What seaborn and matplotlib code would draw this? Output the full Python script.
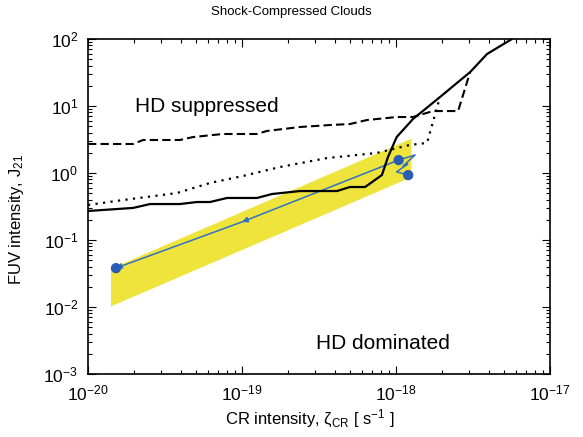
import numpy as np
import pandas as pd
import matplotlib
matplotlib.use("Agg")
import matplotlib.pyplot as plt
import seaborn as sns

# --- data -------------------------------------------------------------
# critical FUV intensity curves (CR intensity [s^-1], J21)
solid_zeta = [1e-20, 1.96e-20, 2.53e-20, 3.95e-20, 5.1e-20, 6.2e-20, 8.0e-20,
              1.25e-19, 1.57e-19, 2.38e-19, 4.14e-19, 5.02e-19, 6.3e-19,
              8.1e-19, 8.87e-19, 1.01e-18, 1.29e-18, 1.93e-18, 3.03e-18,
              3.9e-18, 5.66e-18]
solid_J = [0.271, 0.301, 0.344, 0.344, 0.369, 0.369, 0.424,
           0.424, 0.486, 0.538, 0.538, 0.618, 0.618,
           0.933, 1.73, 3.44, 6.4, 13.6, 32.1,
           59.7, 100.0]

dashed_zeta = [1e-20, 1.96e-20, 2.28e-20, 3.95e-20, 4.81e-20, 7.5e-20, 1.25e-19,
               1.45e-19, 2.38e-19, 3.72e-19, 5.02e-19, 6.49e-19, 1.01e-18,
               1.29e-18, 1.74e-18, 2.53e-18, 3.03e-18]
dashed_J = [2.71, 2.71, 3.11, 3.11, 3.44, 3.82, 3.82,
            4.24, 4.86, 5.2, 5.38, 6.18, 6.85,
            6.85, 8.41, 8.41, 32.1]

dotted_zeta = [1e-20, 1.69e-20, 3.78e-20, 6.2e-20, 1.01e-19, 1.77e-19,
               3.56e-19, 7.5e-19, 1.23e-18, 1.59e-18, 1.93e-18]
dotted_J = [0.333, 0.395, 0.502, 0.71, 0.90, 1.23,
            1.67, 1.99, 2.62, 2.81, 13.6]

# shock-compressed cloud band
band_zeta = [1.4e-20, 1.25e-18]
band_J_low = [0.0104, 0.88]
band_J_high = [0.038, 3.3]

# cloud evolution track
track_zeta = [1.52e-20, 1.68e-20, 1.0e-19, 1.1e-19, 1.04e-18, 1.33e-18,
              1.11e-18, 1.19e-18, 1.01e-18, 1.2e-18]
track_J = [0.038, 0.0415, 0.186, 0.203, 1.56, 1.86,
           1.27, 1.36, 1.04, 0.93]
track_dots = [0, 4, 9]          # indices marked with dots
track_arrows = [(1, 0), (3, 2)]  # (tail index, head index)

region_labels = ["HD suppressed", "HD dominated"]

x_ticks = [1e-20, 1e-19, 1e-18, 1e-17]
x_tick_labels = ["$10^{-20}$", "$10^{-19}$", "$10^{-18}$", "$10^{-17}$"]
y_ticks = [1e-3, 1e-2, 1e-1, 1e0, 1e1, 1e2]
y_tick_labels = ["$10^{-3}$", "$10^{-2}$", "$10^{-1}$", "$10^{0}$",
                 "$10^{1}$", "$10^{2}$"]

# --- style ------------------------------------------------------------
sns.set_style("ticks")
plt.rcParams["font.family"] = ["Liberation Sans", "DejaVu Sans"]
plt.rcParams["mathtext.fontset"] = "custom"
plt.rcParams["mathtext.rm"] = "Liberation Sans"
plt.rcParams["mathtext.it"] = "Liberation Sans:italic"
plt.rcParams["mathtext.default"] = "regular"
plt.rcParams["axes.unicode_minus"] = False
for key in ["text.color", "axes.labelcolor", "xtick.color", "ytick.color",
            "axes.edgecolor"]:
    plt.rcParams[key] = "black"

W, H = 583, 437
fig = plt.figure(figsize=(W / 100, H / 100), dpi=100)
ax = fig.add_axes([88 / W, 1 - 374 / H, 462 / W, 335 / H])
ax.set(xscale="log", yscale="log")

blue_line = "#3470c2"
blue_dot = "#2a5cb3"
yellow = "#eee43c"

# band
ax.fill_between(band_zeta, band_J_low, band_J_high, color=yellow,
                linewidth=0, zorder=1)

# track
track = pd.DataFrame({"zeta": track_zeta, "J": track_J})
sns.lineplot(data=track, x="zeta", y="J", sort=False, estimator=None,
             color=blue_line, linewidth=1.1, ax=ax, zorder=3)
for tail, head in track_arrows:
    ax.annotate("", xy=(track_zeta[head], track_J[head]),
                xytext=(track_zeta[tail], track_J[tail]),
                arrowprops=dict(arrowstyle="-|>", color=blue_line, lw=1.1,
                                mutation_scale=8, shrinkA=0, shrinkB=0),
                zorder=3)
sns.scatterplot(x=[track_zeta[i] for i in track_dots],
                y=[track_J[i] for i in track_dots],
                color=blue_dot, s=55, edgecolor="none", ax=ax, zorder=4)

# critical curves
sns.lineplot(x=dashed_zeta, y=dashed_J, sort=False, estimator=None,
             color="black", linewidth=1.5, linestyle=(0, (4, 2)), ax=ax,
             zorder=5)
sns.lineplot(x=dotted_zeta, y=dotted_J, sort=False, estimator=None,
             color="black", linewidth=1.6, linestyle=(0, (1, 2.4)), ax=ax,
             zorder=5)
sns.lineplot(x=solid_zeta, y=solid_J, sort=False, estimator=None,
             color="black", linewidth=1.6, ax=ax, zorder=6)

# region labels
ax.text(2.02e-20, 9.7, region_labels[0], fontsize=15, ha="left",
        va="center")
ax.text(3.03e-19, 0.0029, region_labels[1], fontsize=15, ha="left",
        va="center")

# axes
ax.set_xlim(1e-20, 1e-17)
ax.set_ylim(1e-3, 1e2)
ax.set_xticks(x_ticks, x_tick_labels)
ax.set_yticks(y_ticks, y_tick_labels)
ax.xaxis.set_minor_locator(matplotlib.ticker.LogLocator(base=10, subs=np.arange(2, 10), numticks=20))
ax.yaxis.set_minor_locator(matplotlib.ticker.LogLocator(base=10, subs=np.arange(2, 10), numticks=20))
ax.xaxis.set_minor_formatter(matplotlib.ticker.NullFormatter())
ax.yaxis.set_minor_formatter(matplotlib.ticker.NullFormatter())
ax.tick_params(which="both", direction="in", top=True, right=True,
               labelsize=12.5, width=0.8, color="black")
ax.tick_params(which="major", length=6, pad=7)
ax.tick_params(which="minor", length=3)
for s in ax.spines.values():
    s.set_linewidth(1.2)
    s.set_color("black")

ax.set_xlabel(r"CR intensity, $\zeta_{CR}$ [ s$^{-1}$ ]", fontsize=12)
ax.set_ylabel(r"FUV intensity, J$_{21}$", fontsize=12)
ax.xaxis.set_label_coords(0.48, -0.101)
ax.yaxis.set_label_coords(-0.135, 0.46)

fig.text(0.5, 1 - 12 / H, "Shock-Compressed Clouds", ha="center",
         va="center", fontsize=9.5)

fig.savefig("out.png", dpi=100)
